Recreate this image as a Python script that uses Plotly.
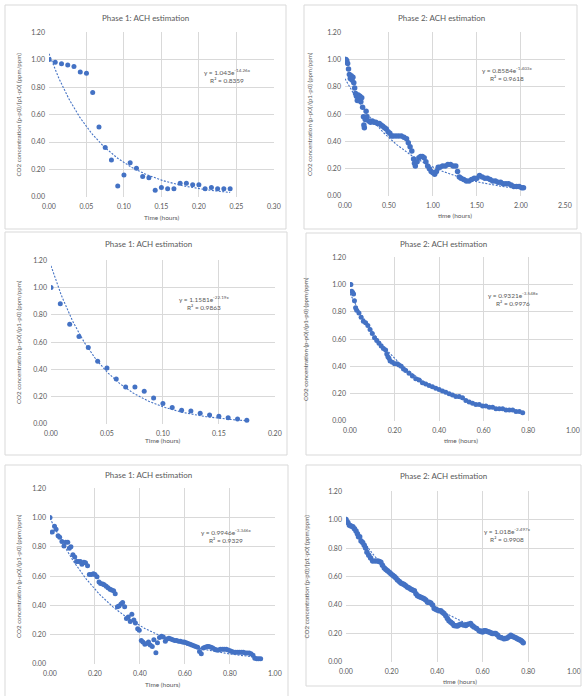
import math
import plotly.graph_objects as go

W, H = 582, 696

# ---------------- data ----------------
# Panel 1 (Phase 1, top)
t1 = [0.0000, 0.0083, 0.0167, 0.0250, 0.0333, 0.0417, 0.0500, 0.0583, 0.0667, 0.0750,
      0.0833, 0.0917, 0.1000, 0.1083, 0.1167, 0.1250, 0.1333, 0.1417, 0.1500, 0.1583,
      0.1667, 0.1750, 0.1833, 0.1917, 0.2000, 0.2083, 0.2167, 0.2250, 0.2333, 0.2417]
c1 = [1.00, 0.98, 0.97, 0.96, 0.95, 0.91, 0.90, 0.76, 0.51, 0.36,
      0.27, 0.08, 0.16, 0.25, 0.21, 0.15, 0.14, 0.05, 0.07, 0.06,
      0.06, 0.10, 0.10, 0.09, 0.09, 0.06, 0.07, 0.06, 0.06, 0.06]

# Panel 2 (Phase 2, top)
t2 = [0.00, 0.01, 0.02, 0.03, 0.04, 0.05, 0.06, 0.07, 0.08, 0.09, 0.10, 0.11, 0.12, 0.13,
      0.14, 0.15, 0.16, 0.17, 0.18, 0.19, 0.20, 0.21, 0.215, 0.22, 0.23, 0.24, 0.25, 0.27,
      0.29, 0.31, 0.33, 0.35, 0.37, 0.39, 0.41, 0.43, 0.45, 0.47, 0.49, 0.51, 0.53, 0.55,
      0.58, 0.61, 0.64, 0.67, 0.70, 0.72, 0.74, 0.76, 0.78, 0.79, 0.80, 0.82, 0.84, 0.86,
      0.88, 0.90, 0.92, 0.94, 0.96, 0.98, 1.00, 1.02, 1.04, 1.06, 1.08, 1.11, 1.14, 1.17,
      1.20, 1.23, 1.26, 1.28, 1.30, 1.32, 1.35, 1.38, 1.41, 1.44, 1.47, 1.50, 1.53, 1.56,
      1.59, 1.62, 1.65, 1.68, 1.71, 1.74, 1.77, 1.80, 1.83, 1.86, 1.89, 1.92, 1.95, 1.98,
      2.01, 2.03]
c2 = [1.00, 1.00, 0.99, 0.97, 0.93, 0.89, 0.86, 0.88, 0.85, 0.87, 0.83, 0.79, 0.75, 0.73,
      0.70, 0.74, 0.71, 0.73, 0.69, 0.72, 0.65, 0.58, 0.52, 0.50, 0.56, 0.62, 0.58, 0.55,
      0.54, 0.55, 0.54, 0.54, 0.53, 0.53, 0.52, 0.51, 0.50, 0.49, 0.47, 0.46, 0.44, 0.44,
      0.44, 0.44, 0.44, 0.43, 0.42, 0.39, 0.36, 0.33, 0.27, 0.24, 0.22, 0.25, 0.28, 0.29,
      0.29, 0.28, 0.25, 0.22, 0.20, 0.18, 0.17, 0.16, 0.18, 0.21, 0.21, 0.22, 0.22, 0.23,
      0.23, 0.22, 0.22, 0.18, 0.14, 0.13, 0.12, 0.11, 0.11, 0.12, 0.13, 0.13, 0.15, 0.14,
      0.13, 0.13, 0.12, 0.11, 0.11, 0.10, 0.10, 0.09, 0.09, 0.09, 0.08, 0.07, 0.07, 0.07,
      0.06, 0.06]

# Panel 3 (Phase 1, middle)
t3 = [0.0000, 0.0083, 0.0167, 0.0250, 0.0333, 0.0417, 0.0500, 0.0583, 0.0667, 0.0750,
      0.0833, 0.0917, 0.1000, 0.1083, 0.1167, 0.1250, 0.1333, 0.1417, 0.1500, 0.1583,
      0.1667, 0.1750]
c3 = [1.00, 0.88, 0.73, 0.64, 0.56, 0.46, 0.41, 0.33, 0.27, 0.27,
      0.24, 0.19, 0.15, 0.12, 0.10, 0.095, 0.078, 0.066, 0.056, 0.046,
      0.037, 0.027]

# Panel 4 (Phase 2, middle)
t4 = [0.000, 0.004, 0.008, 0.012, 0.016, 0.020, 0.025, 0.030, 0.040, 0.050, 0.060, 0.070,
      0.080, 0.090, 0.100, 0.110, 0.120, 0.130, 0.140, 0.150, 0.160, 0.165, 0.170, 0.175,
      0.180, 0.190, 0.200, 0.210, 0.220, 0.230, 0.240, 0.250, 0.265, 0.280, 0.295, 0.310,
      0.325, 0.340, 0.355, 0.370, 0.385, 0.400, 0.415, 0.430, 0.445, 0.460, 0.475, 0.490,
      0.505, 0.520, 0.535, 0.550, 0.565, 0.580, 0.595, 0.610, 0.625, 0.640, 0.655, 0.670,
      0.685, 0.700, 0.715, 0.730, 0.745, 0.760, 0.775]
c4 = [1.00, 1.00, 0.95, 0.94, 0.93, 0.88, 0.83, 0.81, 0.79, 0.76, 0.73, 0.72,
      0.70, 0.67, 0.64, 0.61, 0.59, 0.57, 0.55, 0.53, 0.52, 0.49, 0.47, 0.46,
      0.44, 0.43, 0.42, 0.42, 0.41, 0.40, 0.38, 0.37, 0.35, 0.33, 0.31, 0.30,
      0.28, 0.27, 0.26, 0.25, 0.24, 0.23, 0.22, 0.21, 0.20, 0.19, 0.18, 0.18,
      0.17, 0.15, 0.14, 0.13, 0.12, 0.12, 0.11, 0.11, 0.10, 0.10, 0.09, 0.09,
      0.09, 0.08, 0.08, 0.08, 0.07, 0.07, 0.06]

# Panel 5 (Phase 1, bottom)
t5 = [0.000, 0.010, 0.020, 0.027, 0.036, 0.043, 0.053, 0.062, 0.070, 0.079, 0.086, 0.093,
      0.102, 0.110, 0.118, 0.126, 0.135, 0.142, 0.151, 0.158, 0.167, 0.175, 0.184, 0.193,
      0.200, 0.209, 0.218, 0.225, 0.234, 0.241, 0.250, 0.258, 0.267, 0.274, 0.283, 0.290,
      0.300, 0.307, 0.316, 0.323, 0.332, 0.340, 0.348, 0.357, 0.364, 0.373, 0.380, 0.390,
      0.397, 0.406, 0.413, 0.422, 0.430, 0.438, 0.446, 0.455, 0.462, 0.471, 0.478, 0.487,
      0.496, 0.504, 0.513, 0.520, 0.529, 0.538, 0.546, 0.555, 0.563, 0.572, 0.580, 0.589,
      0.597, 0.606, 0.614, 0.623, 0.631, 0.640, 0.648, 0.657, 0.665, 0.673, 0.682, 0.690,
      0.699, 0.707, 0.716, 0.724, 0.733, 0.741, 0.750, 0.758, 0.767, 0.775, 0.784, 0.792,
      0.801, 0.809, 0.818, 0.826, 0.835, 0.843, 0.852, 0.860, 0.869, 0.877, 0.886, 0.894,
      0.903, 0.911, 0.920, 0.928, 0.937]
c5 = [1.00, 0.90, 0.94, 0.92, 0.875, 0.865, 0.835, 0.805, 0.83, 0.83, 0.79, 0.80,
      0.745, 0.73, 0.70, 0.70, 0.70, 0.68, 0.695, 0.69, 0.67, 0.61, 0.61, 0.615,
      0.61, 0.595, 0.56, 0.55, 0.545, 0.54, 0.53, 0.52, 0.51, 0.505, 0.50, 0.48,
      0.39, 0.395, 0.41, 0.42, 0.39, 0.31, 0.32, 0.29, 0.34, 0.30, 0.28, 0.24,
      0.23, 0.16, 0.15, 0.135, 0.14, 0.15, 0.13, 0.12, 0.165, 0.077, 0.145, 0.18,
      0.19, 0.185, 0.155, 0.17, 0.175, 0.17, 0.165, 0.16, 0.16, 0.155, 0.155, 0.15,
      0.15, 0.145, 0.14, 0.135, 0.13, 0.125, 0.12, 0.115, 0.085, 0.07, 0.11, 0.115,
      0.12, 0.12, 0.115, 0.11, 0.10, 0.095, 0.095, 0.10, 0.10, 0.10, 0.10, 0.095,
      0.09, 0.085, 0.08, 0.08, 0.08, 0.08, 0.08, 0.08, 0.075, 0.075, 0.075, 0.07,
      0.06, 0.04, 0.035, 0.035, 0.035]

# Panel 6 (Phase 2, bottom)
t6 = [0.000, 0.008, 0.015, 0.022, 0.030, 0.037, 0.044, 0.050, 0.055, 0.060, 0.066, 0.073,
      0.080, 0.086, 0.092, 0.100, 0.108, 0.117, 0.128, 0.139, 0.146, 0.153, 0.160, 0.168,
      0.175, 0.182, 0.190, 0.197, 0.205, 0.212, 0.219, 0.226, 0.234, 0.241, 0.248, 0.255,
      0.262, 0.270, 0.277, 0.285, 0.292, 0.300, 0.307, 0.314, 0.321, 0.328, 0.336, 0.343,
      0.350, 0.358, 0.365, 0.372, 0.380, 0.387, 0.394, 0.400, 0.408, 0.416, 0.423, 0.430,
      0.438, 0.445, 0.452, 0.460, 0.467, 0.474, 0.481, 0.489, 0.496, 0.504, 0.515, 0.526,
      0.536, 0.547, 0.555, 0.562, 0.573, 0.584, 0.592, 0.600, 0.606, 0.613, 0.620, 0.628,
      0.635, 0.642, 0.650, 0.657, 0.665, 0.672, 0.682, 0.693, 0.700, 0.708, 0.715, 0.723,
      0.730, 0.737, 0.745, 0.752, 0.759, 0.766, 0.772, 0.778]
c6 = [1.00, 0.98, 0.96, 0.955, 0.95, 0.935, 0.92, 0.90, 0.88, 0.88, 0.85, 0.84,
      0.82, 0.80, 0.77, 0.75, 0.73, 0.71, 0.71, 0.71, 0.705, 0.70, 0.68, 0.66,
      0.65, 0.64, 0.63, 0.62, 0.61, 0.60, 0.59, 0.575, 0.565, 0.555, 0.55, 0.545,
      0.535, 0.525, 0.52, 0.51, 0.505, 0.50, 0.48, 0.465, 0.46, 0.455, 0.45, 0.445,
      0.435, 0.42, 0.42, 0.415, 0.40, 0.375, 0.37, 0.365, 0.36, 0.36, 0.35, 0.34,
      0.325, 0.305, 0.29, 0.28, 0.27, 0.257, 0.255, 0.253, 0.26, 0.265, 0.26, 0.257,
      0.265, 0.27, 0.255, 0.245, 0.235, 0.22, 0.215, 0.21, 0.22, 0.22, 0.215, 0.21,
      0.205, 0.20, 0.20, 0.20, 0.19, 0.175, 0.17, 0.164, 0.165, 0.168, 0.178, 0.187,
      0.18, 0.175, 0.17, 0.164, 0.158, 0.152, 0.145, 0.136]

# trendline parameters (y = a * exp(k x)) and R^2 as printed on the chart
fit_a = [1.043, 0.8584, 1.1581, 0.9321, 0.9946, 1.018]
fit_k = [-14.26, -1.403, -22.19, -3.548, -3.346, -2.497]
fit_a_txt = ["1.043", "0.8584", "1.1581", "0.9321", "0.9946", "1.018"]
fit_k_txt = ["-14.26x", "-1.403x", "-22.19x", "-3.548x", "-3.346x", "-2.497x"]
r2_txt = ["0.8359", "0.9618", "0.9863", "0.9976", "0.9329", "0.9908"]

titles = ["Phase 1: ACH estimation", "Phase 2: ACH estimation"] * 3
x_titles = ["Time (hours)", "time (hours)"] * 3
y_title = "CO2 concentration (p-p0)/(p1-p0) (ppm/ppm)"
x_max = [0.30, 2.50, 0.20, 1.00, 1.00, 1.00]
x_step = [0.05, 0.50, 0.05, 0.20, 0.20, 0.20]
y_ticks = [0.0, 0.2, 0.4, 0.6, 0.8, 1.0, 1.2]

series_t = [t1, t2, t3, t4, t5, t6]
series_c = [c1, c2, c3, c4, c5, c6]

# ---------------- layout geometry (pixels) ----------------
boxes = [(5, 5, 286, 229), (304, 5, 577, 229), (5, 232, 287, 455),
         (306, 233, 581, 455), (5, 465, 288, 700), (306, 465, 581, 686)]
plots = [(49, 32, 274, 197), (345, 32, 565, 196), (51, 260, 275, 424),
         (350, 257, 573, 421), (50, 488, 275, 664), (346, 491, 574, 662)]
title_pos = [(145, 18), (441, 18), (148, 244), (443, 244), (148, 475), (443, 476)]
xt_pos = [(162, 217), (455, 215), (163, 440), (461, 440), (163, 684), (460, 681)]
yt_pos = [18, 310, 18, 306, 18, 306]
eq_pos = [(227, 76), (507, 74), (204, 303), (513, 299), (226, 536), (507, 535)]
marker_size = [5, 5.5, 5, 5, 5, 5.5]

BLUE = "#4472C4"
GRID = "#D9D9D9"
TXT = "#595959"
FONT = "Lato, Open Sans, Arial, sans-serif"


def fx(p):
    return p / W


def fy(p):
    return 1 - p / H


fig = go.Figure()
layout = dict(
    width=W, height=H, margin=dict(l=0, r=0, t=0, b=0, pad=0),
    paper_bgcolor="white", plot_bgcolor="white", showlegend=False,
    font=dict(family=FONT, color=TXT),
)
shapes = []
annotations = []

for i in range(6):
    n = "" if i == 0 else str(i + 1)
    xa, ya = "x" + n, "y" + n
    t, c = series_t[i], series_c[i]
    fig.add_trace(go.Scatter(
        x=t, y=c, mode="markers", xaxis=xa, yaxis=ya,
        marker=dict(color=BLUE, size=marker_size[i], line=dict(width=0)),
    ))
    # exponential trendline from the printed fit
    tmax = max(t)
    nfit = 120
    tf = [tmax * j / nfit for j in range(nfit + 1)]
    cf = [fit_a[i] * math.exp(fit_k[i] * v) for v in tf]
    fig.add_trace(go.Scatter(
        x=tf, y=cf, mode="lines", xaxis=xa, yaxis=ya,
        line=dict(color=BLUE, width=1.1, dash="2px,1.5px"),
    ))

    x0, y0, x1, y1 = plots[i]
    nticks = int(round(x_max[i] / x_step[i]))
    xt_vals = [round(k * x_step[i], 4) for k in range(nticks + 1)]
    layout["xaxis" + n] = dict(
        domain=[fx(x0), fx(x1)], anchor=ya, range=[0, x_max[i] * 1.0008],
        tickmode="array", tickvals=xt_vals, ticktext=["%.2f" % v for v in xt_vals],
        showgrid=True, gridcolor=GRID, gridwidth=0.8, zeroline=False,
        showline=False, ticks="", automargin=False, ticklabelstandoff=4,
        tickfont=dict(size=7, color=TXT, family=FONT),
    )
    layout["yaxis" + n] = dict(
        domain=[fy(y1), fy(y0)], anchor=xa, range=[0, 1.2008],
        tickmode="array", tickvals=y_ticks, ticktext=["%.2f" % v for v in y_ticks],
        showgrid=True, gridcolor=GRID, gridwidth=0.8, zeroline=False,
        showline=False, ticks="", automargin=False, ticklabelstandoff=3,
        tickfont=dict(size=7, color=TXT, family=FONT),
    )

    bx0, by0, bx1, by1 = boxes[i]
    shapes.append(dict(type="rect", xref="paper", yref="paper",
                       x0=fx(bx0), x1=fx(bx1), y0=fy(by1), y1=fy(by0),
                       line=dict(color=GRID, width=1), fillcolor="rgba(0,0,0,0)"))

    tx, ty = title_pos[i]
    annotations.append(dict(text=titles[i], xref="paper", yref="paper",
                            x=fx(tx), y=fy(ty), showarrow=False,
                            xanchor="center", yanchor="middle",
                            font=dict(size=8, color=TXT, family=FONT)))
    ax_, ay_ = xt_pos[i]
    annotations.append(dict(text=x_titles[i], xref="paper", yref="paper",
                            x=fx(ax_), y=fy(ay_), showarrow=False,
                            xanchor="center", yanchor="middle",
                            font=dict(size=6.5, color=TXT, family=FONT)))
    annotations.append(dict(text=y_title, xref="paper", yref="paper",
                            x=fx(yt_pos[i]), y=fy((y0 + y1) / 2), showarrow=False,
                            textangle=-90, xanchor="center", yanchor="middle",
                            font=dict(size=6.2, color=TXT, family=FONT)))
    ex, ey = eq_pos[i]
    annotations.append(dict(
        text="y = %se<sup>%s</sup><br>R² = %s" % (fit_a_txt[i], fit_k_txt[i], r2_txt[i]),
        xref="paper", yref="paper", x=fx(ex), y=fy(ey), showarrow=False,
        xanchor="center", yanchor="middle", align="center",
        font=dict(size=6.5, color=TXT, family=FONT)))

layout["shapes"] = shapes
layout["annotations"] = annotations
fig.update_layout(**layout)
fig.write_html("out.html", config={"displayModeBar": False},
               post_script="document.body.style.margin='0';")
